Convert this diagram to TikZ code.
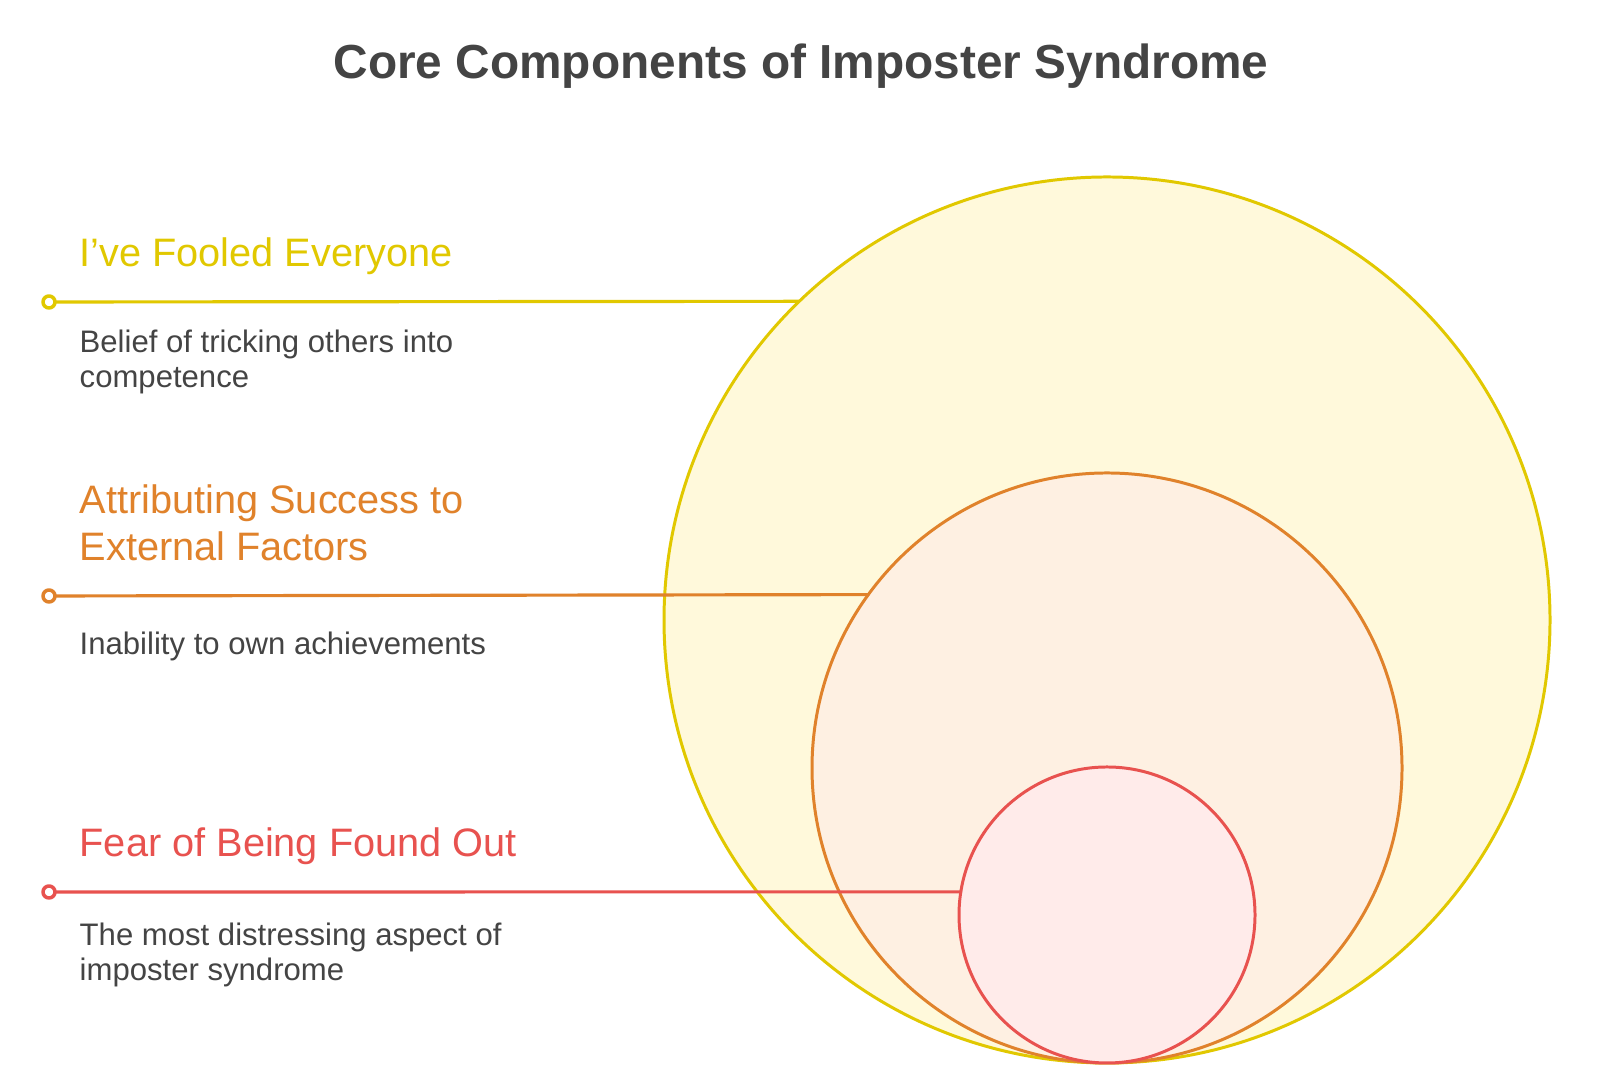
\documentclass[tikz,border=0pt]{standalone}
\usepackage{fontspec}
\setmainfont{Liberation Sans}
\usetikzlibrary{positioning}
\definecolor{ink}{HTML}{444444}
\definecolor{yel}{HTML}{E1C800}
\definecolor{yelfill}{HTML}{FFF9DB}
\definecolor{org}{HTML}{E0822B}
\definecolor{orgfill}{HTML}{FEF0E2}
\definecolor{rd}{HTML}{E8524F}
\definecolor{rdfill}{HTML}{FFEBEA}
\tikzset{
  every picture/.style={line join=round, line cap=round},
  ring/.style={circle, inner sep=0pt, outer sep=0pt, line width=0.85pt},
  pin/.style={circle, draw, fill=white, inner sep=0pt, outer sep=0pt, minimum size=0.12cm, line width=1pt},
  lead/.style={line width=0.9pt},
  head/.style={anchor=base west, inner sep=0pt, align=left, font=\fontsize{11.3}{13.5}\selectfont},
  body/.style={anchor=base west, inner sep=0pt, align=left, text=ink, font=\fontsize{8.85}{9.96}\selectfont},
}

\begin{document}
\begin{tikzpicture}
\fill[white](0,0) rectangle (16,10.81);
\useasboundingbox (0,0) rectangle (16,10.81);
\node[anchor=base, text=ink, font=\bfseries\fontsize{13.6}{16}\selectfont] (title) at (8.01,10.02) {Core Components of Imposter Syndrome};
% nested circles, all touching at the bottom
\node[ring, draw=yel, fill=yelfill, minimum size=8.86cm] (fooled) at (11.07,4.61) {};
\node[ring, draw=org, fill=orgfill, minimum size=5.9cm] (external) at (11.07,3.13) {};
\node[ring, draw=rd, fill=rdfill, minimum size=2.96cm] (fear) at (11.07,1.66) {};
% leader lines
\node[pin, draw=yel] (ypin) at (0.49,7.79) {};
\node[pin, draw=org] (opin) at (0.49,4.85) {};
\node[pin, draw=rd] (rpin) at (0.49,1.89) {};
\draw[lead, yel] (ypin) -- (fooled.134.13);
\draw[lead, org] (opin) -- (external.144.33);
\draw[lead, rd] (rpin) -- (fear.171.06);
% labels (base = last line)
\node[head, text=yel] (yhead) at (0.79,8.14) {I’ve Fooled Everyone};
\node[body] (ybody) at (0.79,6.93) {Belief of tricking others into\\competence};
\node[head, text=org] (ohead) at (0.79,5.20) {Attributing Success to\\External Factors};
\node[body] (obody) at (0.79,4.26) {Inability to own achievements};
\node[head, text=rd] (rhead) at (0.79,2.24) {Fear of Being Found Out};
\node[body] (rbody) at (0.79,1.00) {The most distressing aspect of\\imposter syndrome};
\end{tikzpicture}
\end{document}
